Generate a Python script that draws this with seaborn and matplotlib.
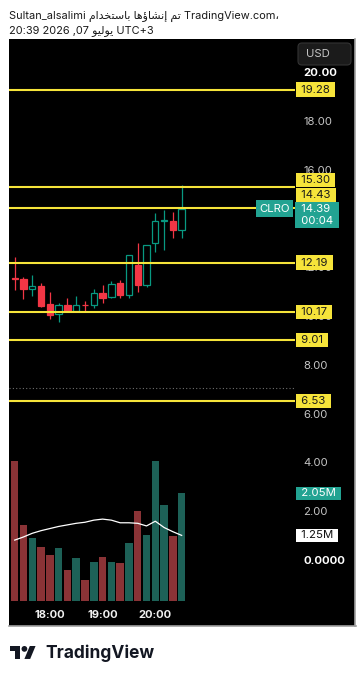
import numpy as np
import pandas as pd
import matplotlib
matplotlib.use("Agg")
import matplotlib.pyplot as plt
import matplotlib.transforms as mtrans
from matplotlib.patches import Rectangle, FancyBboxPatch, Polygon, Circle
import seaborn as sns

# ---------------- data ----------------
times = ["17:20", "17:30", "17:40", "17:50", "18:00", "18:10", "18:20", "18:30", "18:40", "18:50",
         "19:00", "19:10", "19:20", "19:30", "19:40", "19:50", "20:00", "20:10", "20:20", "20:30"]
opens = [11.54, 11.50, 11.10, 11.24, 10.49, 10.08, 10.46, 10.19, 10.46, 10.45,
         10.93, 10.79, 11.34, 10.86, 12.09, 11.27, 12.98, 13.89, 13.91, 13.52]
highs = [12.43, 11.59, 11.68, 11.34, 11.00, 10.52, 10.75, 10.82, 10.61, 11.11,
         11.27, 11.43, 11.48, 12.50, 13.00, 12.91, 14.23, 14.34, 14.28, 15.35]
lows = [11.07, 10.68, 10.83, 10.38, 9.88, 9.74, 10.15, 10.19, 10.19, 10.31,
        10.52, 10.73, 10.73, 10.75, 11.00, 11.18, 12.64, 12.70, 13.21, 13.21]
closes = [11.50, 11.10, 11.24, 10.41, 10.04, 10.46, 10.19, 10.46, 10.44, 10.93,
          10.73, 11.31, 10.86, 12.50, 11.27, 12.91, 13.89, 13.95, 13.52, 14.39]
volumes_m = [2.67, 1.45, 1.20, 1.03, 0.88, 1.01, 0.59, 0.82, 0.40, 0.74,
             0.84, 0.74, 0.72, 1.10, 1.71, 1.26, 2.67, 1.83, 1.24, 2.05]
volume_ma_m = [1.16, 1.22, 1.29, 1.34, 1.38, 1.42, 1.45, 1.48, 1.50, 1.54,
               1.56, 1.54, 1.49, 1.49, 1.48, 1.43, 1.52, 1.40, 1.32, 1.25]
levels = [19.28, 15.30, 14.43, 12.19, 10.17, 9.01, 6.53]
prev_close = 7.05
price_ticks = [0, 2, 4, 6, 8, 10, 12, 14, 16, 18, 20]
ticker = "CLRO"
currency = "USD"
countdown = "00:04"
header_user = "Sultan_alsalimi"
header_ar = "تم إنشاؤها باستخدام"
header_site = "TradingView.com،"
date_time = "20:39 2026 ,07"
date_month = "يوليو"
date_tz = "UTC+3"
brand = "TradingView"

# ---------------- style ----------------
W, H, DPI = 364, 680, 100
YELLOW = "#F6E43A"
RED = "#F23645"
GREEN = "#089981"
VOL_RED = "#8a3336"
VOL_GREEN = "#1d6157"
TEAL = "#22A392"
TICK_GREY = "#c4c4c4"
FAM = ["Inter", "DejaVu Sans"]
FS = 8.2

plt.rcParams["font.family"] = FAM

FORMS = {
    'ت': ('\uFE95', '\uFE96', '\uFE97', '\uFE98'),
    'م': ('\uFEE1', '\uFEE2', '\uFEE3', '\uFEE4'),
    'إ': ('\uFE87', '\uFE88'),
    'ن': ('\uFEE5', '\uFEE6', '\uFEE7', '\uFEE8'),
    'ش': ('\uFEB5', '\uFEB6', '\uFEB7', '\uFEB8'),
    'ا': ('\uFE8D', '\uFE8E'),
    'ؤ': ('\uFE85', '\uFE86'),
    'ه': ('\uFEE9', '\uFEEA', '\uFEEB', '\uFEEC'),
    'ب': ('\uFE8F', '\uFE90', '\uFE91', '\uFE92'),
    'س': ('\uFEB1', '\uFEB2', '\uFEB3', '\uFEB4'),
    'خ': ('\uFEA5', '\uFEA6', '\uFEA7', '\uFEA8'),
    'د': ('\uFEA9', '\uFEAA'),
    'ي': ('\uFEF1', '\uFEF2', '\uFEF3', '\uFEF4'),
    'و': ('\uFEED', '\uFEEE'),
    'ل': ('\uFEDD', '\uFEDE', '\uFEDF', '\uFEE0'),
}


def visual_arabic(s):
    out = []
    for i, ch in enumerate(s):
        if ch not in FORMS:
            out.append(ch)
            continue
        prev = s[i - 1] if i > 0 else None
        nxt = s[i + 1] if i + 1 < len(s) else None
        jp = prev in FORMS and len(FORMS[prev]) == 4
        jn = nxt in FORMS and len(FORMS[ch]) == 4
        f = FORMS[ch]
        if jp and jn:
            out.append(f[3])
        elif jp:
            out.append(f[1])
        elif jn:
            out.append(f[2])
        else:
            out.append(f[0])
    return "".join(out)[::-1]


fig = plt.figure(figsize=(W / DPI, H / DPI), dpi=DPI)
fig.patch.set_facecolor("white")
PX = mtrans.Affine2D().scale(1 / W, -1 / H).translate(0, 1) + fig.transFigure

# black panel (behind the axes)
fig.patches.append(Rectangle((9, 39), 346, 587, transform=PX, facecolor="black",
                             edgecolor="none", zorder=-5))
fig.lines.append(plt.Line2D([355, 355], [39, 626], transform=PX, color="#a0a0a0", lw=1.2,
                            zorder=-4))
fig.lines.append(plt.Line2D([9, 355.5], [626, 626], transform=PX, color="#a0a0a0", lw=1.2,
                            zorder=-4))

# axes (volume underneath, price twin on top)
ax = fig.add_axes([9 / W, 1 - 603 / H, 286 / W, 564 / H])
ax.set_facecolor("black")
n = len(times)
idx = np.arange(n)
dirs = ["up" if c >= o else "down" for o, c in zip(opens, closes)]
df = pd.DataFrame({"i": idx, "vol": volumes_m, "ma": volume_ma_m, "dir": dirs})

sns.barplot(data=df, x="i", y="vol", hue="dir", palette={"up": VOL_GREEN, "down": VOL_RED},
            native_scale=True, dodge=False, width=0.85, saturation=1, errorbar=None,
            legend=False, ax=ax, linewidth=0)
sns.lineplot(data=df, x="i", y="ma", color="white", linewidth=0.9, ax=ax, legend=False)

ax.set_xlim(-0.65, 31.9)
ax.set_ylim(-0.038, 10.705)
ax.set_yticks([])
ax.set_xlabel("")
ax.set_ylabel("")
hour_idx = [i for i, t in enumerate(times) if t.endswith(":00")]
ax.set_xticks(hour_idx)
ax.set_xticklabels([times[i] for i in hour_idx])
ax.tick_params(axis="x", length=0, pad=5, labelsize=8, labelcolor="#f0f0f0")
for lb in ax.get_xticklabels():
    lb.set_fontweight("bold")
for s in ax.spines.values():
    s.set_visible(False)

axp = ax.twinx()
axp.set_ylim(-1.76, 21.35)
axp.set_xlim(-0.65, 31.9)
for s in axp.spines.values():
    s.set_visible(False)

# candles
edge = [GREEN if d == "up" else RED for d in dirs]
face = ["black" if d == "up" else RED for d in dirs]
axp.vlines(idx, lows, highs, colors=edge, linewidth=0.9, zorder=2)
bottoms = np.minimum(opens, closes)
heights = np.maximum(np.abs(np.array(closes) - np.array(opens)), 0.03)
axp.bar(idx, heights, bottom=bottoms, width=0.72, color=face, edgecolor=edge,
        linewidth=0.9, zorder=3)

# previous close dotted line and horizontal levels
axp.axhline(prev_close, color="#6f6f6f", lw=0.8, ls=(0, (1, 2)), zorder=1)
for v in levels:
    axp.axhline(v, color=YELLOW, lw=1.5, zorder=4)

# price ticks
axp.set_yticks(price_ticks)
axp.set_yticklabels(["0.0000" if v == 0 else f"{v:.2f}" for v in price_ticks])
axp.tick_params(axis="y", right=True, length=0, pad=6, labelsize=FS, labelcolor=TICK_GREY)
for lb in axp.get_yticklabels():
    if lb.get_text() in ("20.00", "0.0000"):
        lb.set_fontweight("bold")
        lb.set_color("white")

# level labels
offsets = {15.30: 7, 14.43: 13}
for v in levels:
    axp.annotate(f" {v:.2f} ", xy=(1, v), xycoords=axp.get_yaxis_transform(),
                 xytext=(3, offsets.get(v, 0)), textcoords="offset pixels",
                 ha="left", va="center", fontsize=FS, color="#1a1a1a",
                 bbox=dict(boxstyle="square,pad=0.18", fc=YELLOW, ec="none"),
                 annotation_clip=False, zorder=6)

last = closes[-1]
axp.annotate(ticker, xy=(1, last), xycoords=axp.get_yaxis_transform(),
             xytext=(-5, 0), textcoords="offset pixels", ha="right", va="center",
             fontsize=FS, color="white",
             bbox=dict(boxstyle="square,pad=0.3", fc=TEAL, ec="none"),
             annotation_clip=False, zorder=6)
axp.annotate(f" {last:.2f} \n {countdown} ", xy=(1, last), xycoords=axp.get_yaxis_transform(),
             xytext=(3, -6), textcoords="offset pixels", ha="left", va="center",
             fontsize=FS, color="white", linespacing=1.2,
             bbox=dict(boxstyle="square,pad=0.22", fc=TEAL, ec="none"),
             annotation_clip=False, zorder=7)

# volume labels
axp.annotate(f" {volumes_m[-1]:.2f}M ", xy=(1, volumes_m[-1]), xycoords=ax.get_yaxis_transform(),
             xytext=(3, 0), textcoords="offset pixels", ha="left", va="center",
             fontsize=FS, color="white",
             bbox=dict(boxstyle="square,pad=0.15", fc=TEAL, ec="none"),
             annotation_clip=False, zorder=6)
axp.annotate(f" {volume_ma_m[-1]:.2f}M ", xy=(1, volume_ma_m[-1]), xycoords=ax.get_yaxis_transform(),
             xytext=(3, 0), textcoords="offset pixels", ha="left", va="center",
             fontsize=FS, color="#111111",
             bbox=dict(boxstyle="square,pad=0.15", fc="white", ec="none"),
             annotation_clip=False, zorder=6)

# currency box
fig.patches.append(FancyBboxPatch((298, 43), 53, 22, boxstyle="round,pad=0,rounding_size=4",
                                  transform=PX, facecolor="#1b1b1b", edgecolor="#333333",
                                  lw=0.8, zorder=5))
fig.text(306, 54, currency, transform=PX, ha="left", va="center", fontsize=FS,
         color=TICK_GREY, zorder=6)

# header
line1 = f"{header_user} {visual_arabic(header_ar)} {header_site}"
line2 = f"{date_time} {visual_arabic(date_month)} {date_tz}"
fig.text(9, 16, line1, transform=PX, ha="left", va="center", fontsize=7.9, color="#1a1a1a",
         family=FAM)
fig.text(9, 31, line2, transform=PX, ha="left", va="center", fontsize=7.9, color="#1a1a1a",
         family=FAM)

# brand logo
def L(u, v):
    return (10 + 0.72 * u, 646 + 0.72 * (v - 4))

fig.patches.append(Polygon([L(14, 22), L(7, 22), L(7, 11), L(0, 11), L(0, 4), L(14, 4)],
                           closed=True, transform=PX, facecolor="#131722", edgecolor="none"))
fig.patches.append(Polygon([L(28, 22), L(20, 22), L(27.5, 4), L(35.5, 4)],
                           closed=True, transform=PX, facecolor="#131722", edgecolor="none"))
cx, cy = L(20, 8)
fig.patches.append(Circle((cx, cy), 0.72 * 4, transform=PX, facecolor="#131722",
                          edgecolor="none"))
fig.text(45, 653, brand, transform=PX, ha="left", va="center", fontsize=12.5,
         fontweight="bold", color="#131722")

fig.savefig("out.png", dpi=DPI, facecolor="white")
